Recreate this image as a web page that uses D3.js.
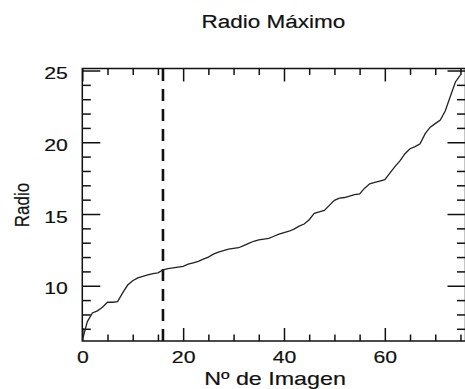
<!DOCTYPE html>
<html>
<head>
<meta charset="utf-8">
<script src="https://cdn.jsdelivr.net/npm/d3@7"></script>
<style>
  body { margin: 0; background: #fff; }
  text { font-family: "Liberation Sans", Arial, Helvetica, sans-serif; fill: #111; stroke: #111; stroke-width: 0.18; }
</style>
</head>
<body>
<div id="vis"></div>
<script>
const layout = {
    width: 465,
    height: 389,
    left: 82.3,
    right: 465.5,
    top: 68.5,
    bottom: 341,
    stretch: 1.25
};

// image number vs max radius
const imageNo = d3.range(0, 76);
const radio = [
    6.2, 7.5, 8.1, 8.25, 8.5, 8.85, 8.85, 8.9, 9.5, 10.05,
    10.35, 10.55, 10.65, 10.75, 10.85, 10.9, 11.1, 11.2, 11.25, 11.3,
    11.35, 11.5, 11.6, 11.7, 11.85, 12.0, 12.2, 12.35, 12.45, 12.55,
    12.6, 12.65, 12.8, 12.95, 13.1, 13.2, 13.25, 13.3, 13.45, 13.6,
    13.7, 13.8, 13.95, 14.15, 14.3, 14.6, 15.05, 15.15, 15.25, 15.6,
    15.95, 16.1, 16.15, 16.25, 16.35, 16.4, 16.8, 17.1, 17.2, 17.3,
    17.4, 17.85, 18.3, 18.7, 19.2, 19.55, 19.7, 19.9, 20.6, 21.05,
    21.3, 21.55, 22.2, 23.2, 24.2, 24.7
];
const xDomain = [0, 76];
const yDomain = [6.15, 25.14];
const xMajor = [0, 20, 40, 60];
const xMinor = [5, 10, 15, 25, 30, 35, 45, 50, 55, 65, 70, 75];
const yMajor = [10, 15, 20, 25];
const yMinor = [7, 8, 9, 11, 12, 13, 14, 16, 17, 18, 19, 21, 22, 23, 24];
const markerX = 16;
const title = "Radio Máximo";
const xTitle = "Nº de Imagen";
const yTitle = "Radio";

let svg = d3.select("#vis").append("svg")
    .attr("width", layout.width)
    .attr("height", layout.height);

let xScale = d3.scaleLinear().domain(xDomain).range([layout.left, layout.right]);
let yScale = d3.scaleLinear().domain(yDomain).range([layout.bottom, layout.top]);

// ticks on all four sides, pointing inwards
function ticks(axis, pos, size) {
    let g = svg.append("g")
        .attr("transform", pos)
        .call(axis.tickSizeOuter(0).tickSizeInner(size));
    g.select(".domain").remove();
    g.selectAll("line").attr("stroke", "#111").attr("stroke-width", 1.5);
    return g;
}

let xBottom = ticks(d3.axisBottom(xScale).tickValues(xMajor).tickFormat(d3.format("d")),
    `translate(0,${layout.bottom})`, -13);
ticks(d3.axisBottom(xScale).tickValues(xMinor).tickFormat(""), `translate(0,${layout.bottom})`, -6.5);
ticks(d3.axisTop(xScale).tickValues(xMajor).tickFormat(""), `translate(0,${layout.top})`, -13);
ticks(d3.axisTop(xScale).tickValues(xMinor).tickFormat(""), `translate(0,${layout.top})`, -6.5);

let yLeft = ticks(d3.axisLeft(yScale).tickValues(yMajor).tickFormat(d3.format("d")),
    `translate(${layout.left},0)`, -18);
ticks(d3.axisLeft(yScale).tickValues(yMinor).tickFormat(""), `translate(${layout.left},0)`, -8.5);
ticks(d3.axisRight(yScale).tickValues(yMajor).tickFormat(""), `translate(${layout.right},0)`, -18);
ticks(d3.axisRight(yScale).tickValues(yMinor).tickFormat(""), `translate(${layout.right},0)`, -8.5);

xBottom.selectAll("text")
    .attr("y", 22).attr("dy", 0)
    .attr("font-size", 17)
    .attr("transform", `scale(${layout.stretch},1)`);
yLeft.selectAll("text")
    .attr("x", 0).attr("dy", "0.36em")
    .attr("font-size", 17)
    .attr("text-anchor", "end")
    .attr("transform", `translate(-14.5,2) scale(${layout.stretch},1)`);

// frame
svg.append("rect")
    .attr("x", layout.left).attr("y", layout.top)
    .attr("width", layout.right - layout.left)
    .attr("height", layout.bottom - layout.top)
    .attr("fill", "none")
    .attr("stroke", "#111")
    .attr("stroke-width", 1.5);

// dashed marker
svg.append("line")
    .attr("x1", xScale(markerX)).attr("x2", xScale(markerX))
    .attr("y1", layout.bottom).attr("y2", layout.top)
    .attr("stroke", "#111")
    .attr("stroke-width", 2.6)
    .attr("stroke-dasharray", "12,8");

// curve
svg.append("path")
    .datum(imageNo)
    .attr("fill", "none")
    .attr("stroke", "#222")
    .attr("stroke-width", 1.3)
    .attr("d", d3.line()
        .x(i => xScale(i))
        .y(i => yScale(radio[i])));

// titles
svg.append("text")
    .attr("transform", `translate(273.3,28.3) scale(${layout.stretch},1)`)
    .attr("text-anchor", "middle")
    .attr("font-size", 18)
    .text(title);

svg.append("text")
    .attr("transform", `translate(275,385) scale(1.33,1)`)
    .attr("text-anchor", "middle")
    .attr("font-size", 17.5)
    .text(xTitle);

svg.append("text")
    .attr("transform", `translate(29,205) rotate(-90) scale(1,1.15)`)
    .attr("text-anchor", "middle")
    .attr("font-size", 17)
    .text(yTitle);
</script>
</body>
</html>
